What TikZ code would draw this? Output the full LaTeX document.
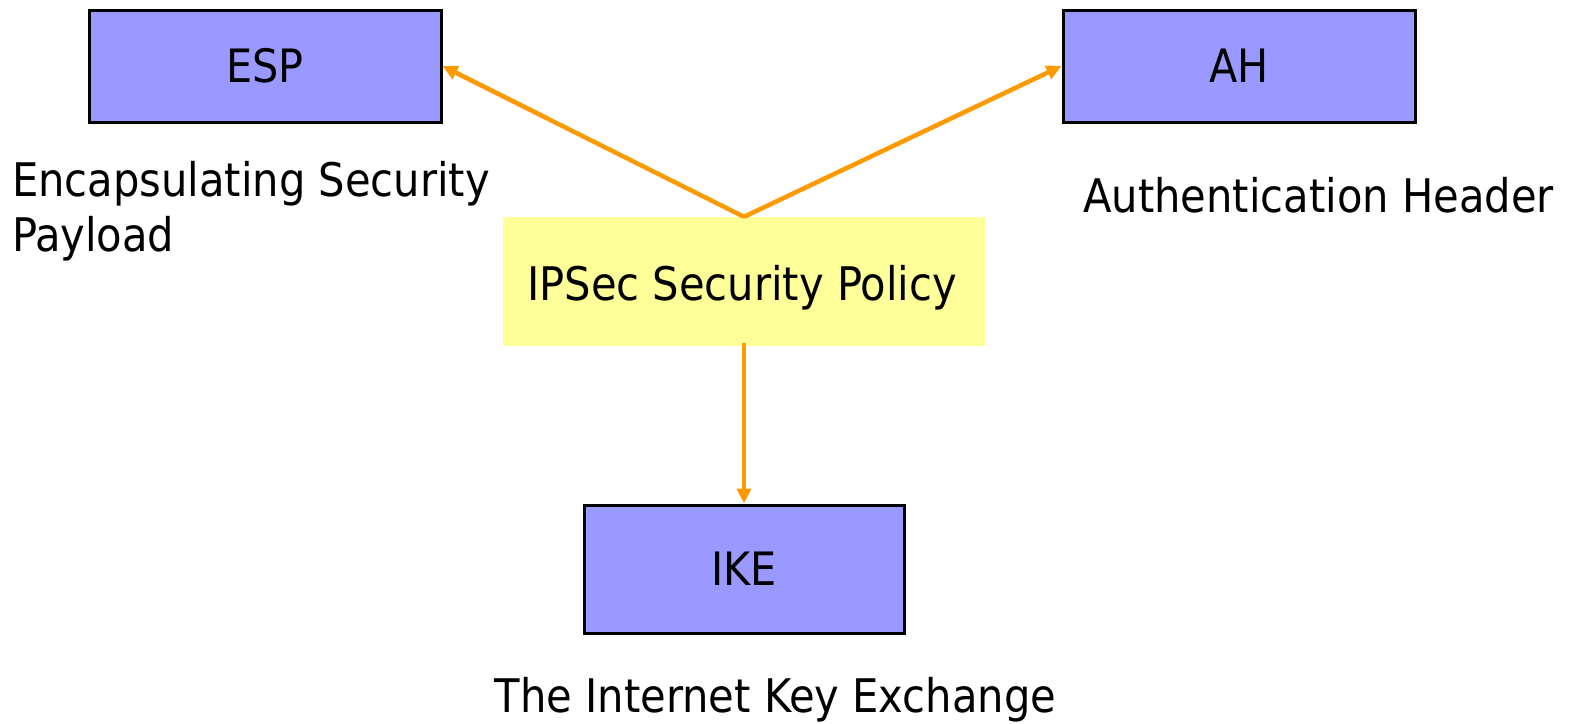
\documentclass[tikz,border=0pt]{standalone}
\usepackage{fontspec}
\setmainfont{DejaVu Sans Condensed}
\usetikzlibrary{arrows.meta}
\definecolor{boxblue}{HTML}{9999FF}
\definecolor{policyyellow}{HTML}{FFFF99}
\definecolor{linkorange}{HTML}{FF9900}
\tikzset{
  protobox/.style={draw=black, line width=3pt, fill=boxblue, inner sep=0pt,
    font=\fontsize{46}{54}\selectfont},
  policybox/.style={fill=policyyellow, inner sep=0pt},
  caption/.style={inner sep=0pt, font=\fontsize{46.3}{55}\selectfont, align=left},
  link/.style={draw=linkorange, line width=4.5pt,
    -{Triangle[length=15pt,width=14pt]}},
}
\begin{document}
\begin{tikzpicture}[x=1pt,y=-1pt]
  \useasboundingbox (0,0) rectangle (1570,723);

  % protocol boxes
  \node[protobox, minimum width=352pt, minimum height=112pt] (esp) at (265,66) {ESP};
  \node[protobox, minimum width=352pt, minimum height=112pt] (ah) at (1239,66) {AH};
  \node[protobox, minimum width=320pt, minimum height=128pt] (ike) at (744,569) {IKE};

  % central policy
  \node[policybox, minimum width=482pt, minimum height=129pt] (policy) at (744,281.5) {};
  \node[caption, anchor=base west] (policytext) at (527,300) {IPSec Security Policy};

  % descriptive captions
  \node[caption, anchor=base west] (espcap1) at (12,196) {Encapsulating Security};
  \node[caption, anchor=base west] (espcap2) at (12,251) {Payload};
  \node[caption, anchor=base west] (ahcap) at (1083,212) {Authentication Header};
  \node[caption, anchor=base] (ikecap) at (775.5,712) {The Internet Key Exchange};

  % connectors
  \draw[link] (policy.north) -- (esp.east);
  \draw[link] (policy.north) -- (ah.west);
  \draw[link] ([yshift=3pt]policy.south) -- (ike.north);
\end{tikzpicture}
\end{document}
